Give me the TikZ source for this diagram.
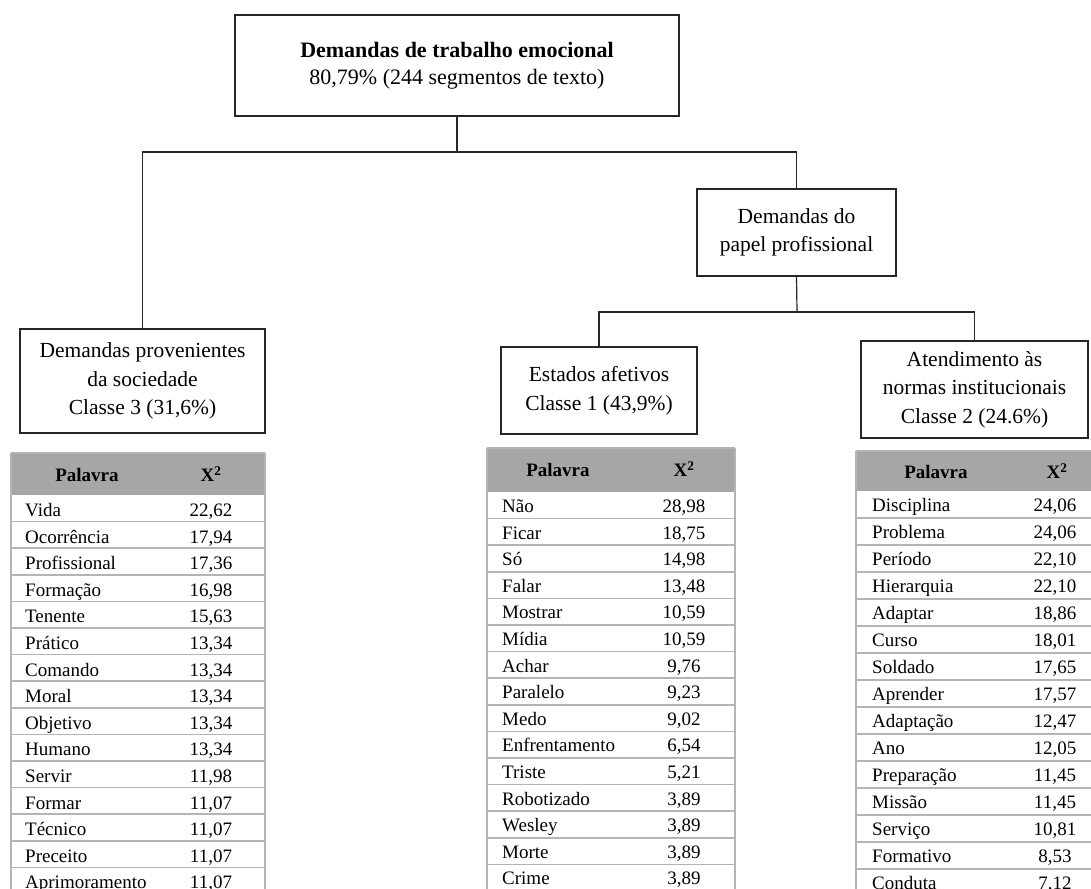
\documentclass[tikz,border=0pt]{standalone}
\usepackage{fontspec}
\setmainfont{Liberation Serif}
\definecolor{hdrgray}{HTML}{A6A6A6}
\definecolor{gridgray}{HTML}{B4B4B4}
\tikzset{
  box/.style={draw=black!85, line width=1.2pt, align=center, inner sep=0pt,
    font=\fontsize{21.5}{28.5}\selectfont},
  conn/.style={draw=black!85, line width=1.2pt},
  grid/.style={draw=gridgray, line width=1.5pt},
  word/.style={anchor=base west, inner sep=0pt, font=\fontsize{19}{22}\selectfont},
  num/.style={anchor=base, inner sep=0pt, font=\fontsize{19}{22}\selectfont},
  hdr/.style={inner sep=0pt, font=\fontsize{19}{22}\selectfont\bfseries},
}
\begin{document}
\begin{tikzpicture}[x=1pt,y=-1pt]
\useasboundingbox (0,0) rectangle (1091,888);
\fill[white] (0,0) rectangle (1091,888);
\clip (0,0) rectangle (1091,888);

% boxes
\node[box, minimum width=444pt, minimum height=101pt, font=\fontsize{22}{27}\selectfont] (top) at (457,65.5)
  {\textbf{Demandas de trabalho emocional}\\80,79\% (244 segmentos de texto)};
\node[box, minimum width=199pt, minimum height=87pt] (prof) at (796.5,232.5)
  {Demandas do\\papel profissional};
\node[box, minimum width=245pt, minimum height=104pt] (soc) at (142.5,381)
  {Demandas provenientes\\da sociedade\\Classe 3 (31,6\%)};
\node[box, minimum width=196pt, minimum height=87pt] (afet) at (599,390.5)
  {Estados afetivos\\Classe 1 (43,9\%)};
\node[box, minimum width=227pt, minimum height=97pt] (norm) at (974.5,389.5)
  {Atendimento às\\normas institucionais\\Classe 2 (24.6\%)};

% connectors
\coordinate (j1) at (457,152);
\coordinate (j2) at (797,312);
\draw[conn] (top.south) -- (j1);
\draw[conn] (soc.north) |- (j1) -| (prof.north);
\draw[conn] (prof.south) -- (j2);
\draw[conn] (afet.north) |- (j2) -| (norm.north);

% left table
\fill[hdrgray] (11,453) rectangle (265,495);
\node[hdr] (lhp) at (87,475) {Palavra};
\node[hdr] (lhx) at (211,474) {X\textsuperscript{2}};
\foreach [count=\i] \w/\v in {Vida/{22,62},Ocorrência/{17,94},Profissional/{17,36},Formação/{16,98},Tenente/{15,63},Prático/{13,34},Comando/{13,34},Moral/{13,34},Objetivo/{13,34},Humano/{13,34},Servir/{11,98},Formar/{11,07},Técnico/{11,07},Preceito/{11,07},Aprimoramento/{11,07}}{
  \pgfmathsetmacro\yt{495+(\i-1)*26.6}
  \draw[grid] (11,\yt+26.6) -- (265,\yt+26.6);
  \node[word] (lw\i) at (25,\yt+21.5) {\w};
  \node[num] (lv\i) at (211,\yt+21.5) {\v};
}
\draw[grid] (11,453) -- (265,453);
\draw[grid] (11,453) -- (11,900);
\draw[grid] (265,453) -- (265,900);

% middle table
\fill[hdrgray] (487,448) rectangle (735,492);
\node[hdr] (mhp) at (558,470) {Palavra};
\node[hdr] (mhx) at (684,469) {X\textsuperscript{2}};
\foreach [count=\i] \w/\v in {Não/{28,98},Ficar/{18,75},Só/{14,98},Falar/{13,48},Mostrar/{10,59},Mídia/{10,59},Achar/{9,76},Paralelo/{9,23},Medo/{9,02},Enfrentamento/{6,54},Triste/{5,21},Robotizado/{3,89},Wesley/{3,89},Morte/{3,89},Crime/{3,89}}{
  \pgfmathsetmacro\yt{492+(\i-1)*26.6}
  \draw[grid] (487,\yt+26.6) -- (735,\yt+26.6);
  \node[word] (mw\i) at (502,\yt+20.5) {\w};
  \node[num] (mv\i) at (684,\yt+20.5) {\v};
}
\draw[grid] (487,448) -- (735,448);
\draw[grid] (487,448) -- (487,900);
\draw[grid] (735,448) -- (735,900);

% right table
\fill[hdrgray] (856,451) rectangle (1095,491);
\node[hdr] (rhp) at (936,472) {Palavra};
\node[hdr] (rhx) at (1057,471) {X\textsuperscript{2}};
\foreach [count=\i] \w/\v in {Disciplina/{24,06},Problema/{24,06},Período/{22,10},Hierarquia/{22,10},Adaptar/{18,86},Curso/{18,01},Soldado/{17,65},Aprender/{17,57},Adaptação/{12,47},Ano/{12,05},Preparação/{11,45},Missão/{11,45},Serviço/{10,81},Formativo/{8,53},Conduta/{7,12}}{
  \pgfmathsetmacro\yt{491+(\i-1)*27}
  \draw[grid] (856,\yt+27) -- (1095,\yt+27);
  \node[word] (rw\i) at (872,\yt+20.5) {\w};
  \node[num] (rv\i) at (1055,\yt+20.5) {\v};
}
\draw[grid] (856,451) -- (1095,451);
\draw[grid] (856,451) -- (856,900);
\end{tikzpicture}
\end{document}
